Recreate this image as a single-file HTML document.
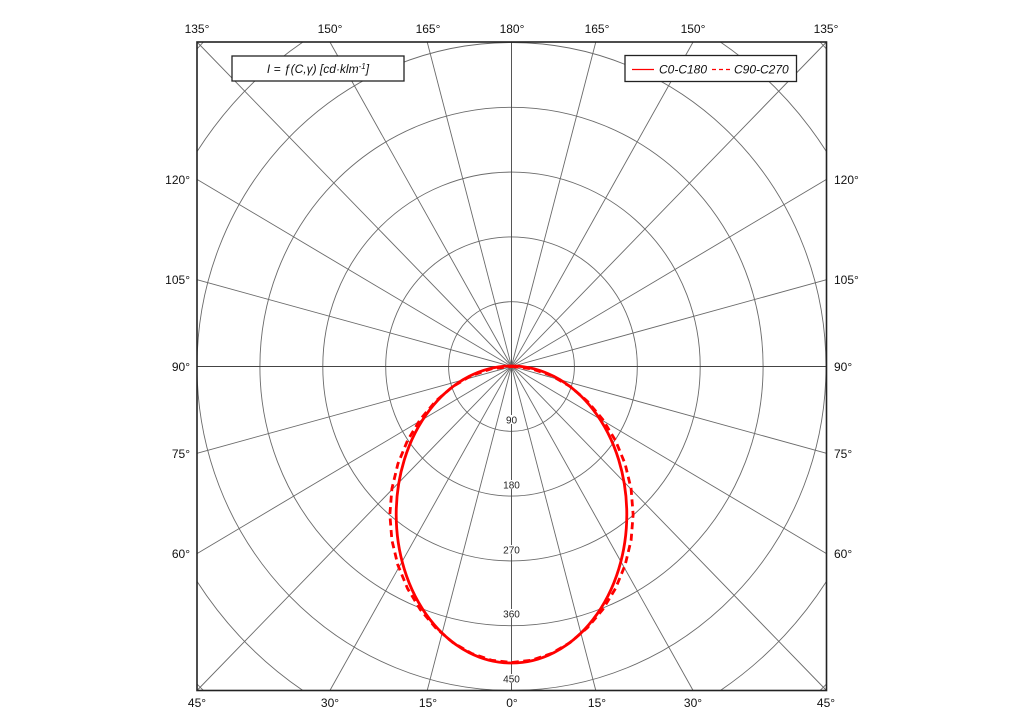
<!DOCTYPE html>
<html><head><meta charset="utf-8"><style>
html,body{margin:0;padding:0;background:#fff;width:1024px;height:727px;overflow:hidden;}
svg{display:block;overflow:hidden;}
text{font-family:"Liberation Sans",Arial,sans-serif;}
</style></head><body>
<svg width="1024" height="727" viewBox="0 0 1024 727" xmlns="http://www.w3.org/2000/svg">
<rect width="1024" height="727" fill="#fff"/>
<g fill="none" stroke="#6a6a6a" stroke-width="0.9">
<ellipse cx="511.5" cy="366.5" rx="62.9" ry="64.8"/>
<ellipse cx="511.5" cy="366.5" rx="125.8" ry="129.6"/>
<ellipse cx="511.5" cy="366.5" rx="188.7" ry="194.4"/>
<ellipse cx="511.5" cy="366.5" rx="251.6" ry="259.2"/>
<ellipse cx="511.5" cy="366.5" rx="314.5" ry="324"/>
<path d="M197,151.6 A377.4,388.8 0 0 1 302.9,42 M720.4,42 A377.4,388.8 0 0 1 826.5,151.6 M826.5,581.4 A377.4,388.8 0 0 1 720.4,690.5 M302.9,690.5 A377.4,388.8 0 0 1 197,581.4"/>
<path d="M197,49 A440.3,453.6 0 0 1 203.4,42 M820.1,42 A440.3,453.6 0 0 1 826.5,49 M826.5,684 A440.3,453.6 0 0 1 820.1,690.5 M203.4,690.5 A440.3,453.6 0 0 1 197,684"/>
<line x1="511.5" y1="42" x2="511.5" y2="690.5" stroke="#444"/>
<line x1="595.8" y1="690.5" x2="427.2" y2="42"/>
<line x1="693.1" y1="690.5" x2="329.9" y2="42"/>
<line x1="826.5" y1="690.5" x2="197" y2="42"/>
<line x1="826.5" y1="553.6" x2="197" y2="179.4"/>
<line x1="826.5" y1="453.3" x2="197" y2="279.7"/>
<line x1="826.5" y1="366.5" x2="197" y2="366.5" stroke="#444"/>
<line x1="826.5" y1="279.7" x2="197" y2="453.3"/>
<line x1="826.5" y1="179.4" x2="197" y2="553.6"/>
<line x1="826.5" y1="42" x2="197" y2="690.5"/>
<line x1="693.1" y1="42" x2="329.9" y2="690.5"/>
<line x1="595.8" y1="42" x2="427.2" y2="690.5"/>
</g>
<g font-size="10" fill="#222" text-anchor="middle">
<rect x="504" y="415" width="15" height="9" fill="#fff"/>
<text x="511.5" y="423.5">90</text>
<rect x="502" y="480" width="19" height="9" fill="#fff"/>
<text x="511.5" y="488.5">180</text>
<rect x="502" y="545" width="19" height="9" fill="#fff"/>
<text x="511.5" y="553.5">270</text>
<rect x="502" y="609" width="19" height="9" fill="#fff"/>
<text x="511.5" y="617.5">360</text>
<rect x="502" y="674" width="19" height="9" fill="#fff"/>
<text x="511.5" y="682.5">450</text>
</g>
<g fill="none" stroke="#ff0000" stroke-width="2.8" stroke-linejoin="round">
<ellipse cx="511.5" cy="514.5" rx="115.3" ry="148.5"/>
<path stroke-dasharray="7 4.5" d="M511.5,366.5 L531.55,368.75 L551.18,375.42 L569.94,386.33 L587.3,401.13 L602.67,419.37 L615.47,440.5 L625.11,463.88 L631.11,488.81 L633.14,514.5 L631.11,540.19 L625.11,565.12 L615.47,588.5 L602.67,609.63 L587.3,627.87 L569.94,642.67 L551.18,653.58 L531.55,660.25 L511.5,662.5 L491.45,660.25 L471.82,653.58 L453.06,642.67 L435.7,627.87 L420.33,609.63 L407.53,588.5 L397.89,565.12 L391.89,540.19 L389.86,514.5 L391.89,488.81 L397.89,463.88 L407.53,440.5 L420.33,419.37 L435.7,401.13 L453.06,386.33 L471.82,375.42 L491.45,368.75 Z"/>
</g>
<rect x="197" y="42" width="629.5" height="648.5" fill="none" stroke="#222" stroke-width="1.6"/>
<rect x="232" y="56" width="172" height="25" fill="#fff" stroke="#222" stroke-width="1.3"/>
<text x="318" y="73" font-size="12" font-style="italic" text-anchor="middle" fill="#111">I = ƒ(C,γ) [cd·klm<tspan font-size="8" dy="-4">-1</tspan><tspan dy="4">]</tspan></text>
<rect x="625" y="55.5" width="171.5" height="26" fill="#fff" stroke="#222" stroke-width="1.3"/>
<line x1="632" y1="69.5" x2="654" y2="69.5" stroke="#ff0000" stroke-width="1.3"/>
<text x="659" y="73.5" font-size="12" font-style="italic" fill="#111">C0-C180</text>
<line x1="712" y1="69.5" x2="731" y2="69.5" stroke="#ff0000" stroke-width="1.3" stroke-dasharray="4 3"/>
<text x="734" y="73.5" font-size="12" font-style="italic" fill="#111">C90-C270</text>
<g font-size="12" fill="#111" text-anchor="middle">
<text x="197" y="33">135°</text>
<text x="330" y="33">150°</text>
<text x="428" y="33">165°</text>
<text x="512" y="33">180°</text>
<text x="597" y="33">165°</text>
<text x="693" y="33">150°</text>
<text x="826" y="33">135°</text>
<text x="197" y="707">45°</text>
<text x="330" y="707">30°</text>
<text x="428" y="707">15°</text>
<text x="512" y="707">0°</text>
<text x="597" y="707">15°</text>
<text x="693" y="707">30°</text>
<text x="826" y="707">45°</text>
</g>
<g font-size="12" fill="#111" text-anchor="end">
<text x="190" y="184">120°</text>
<text x="190" y="284">105°</text>
<text x="190" y="371">90°</text>
<text x="190" y="458">75°</text>
<text x="190" y="558">60°</text>
</g>
<g font-size="12" fill="#111" text-anchor="start">
<text x="834" y="184">120°</text>
<text x="834" y="284">105°</text>
<text x="834" y="371">90°</text>
<text x="834" y="458">75°</text>
<text x="834" y="558">60°</text>
</g>
</svg>
</body></html>
